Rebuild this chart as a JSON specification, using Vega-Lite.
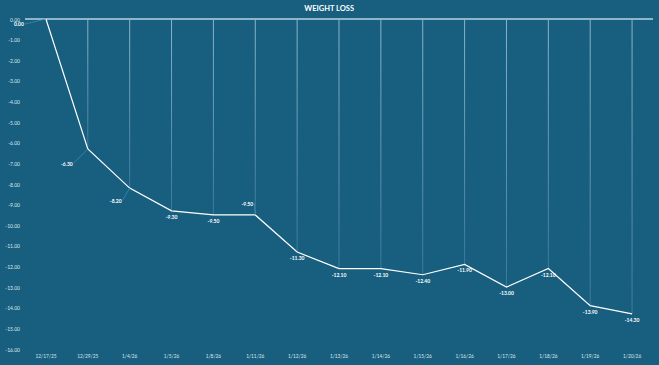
{
  "$schema": "https://vega.github.io/schema/vega-lite/v6.json",
  "width": 628,
  "height": 330,
  "autosize": "none",
  "padding": {"left": 25, "top": 19, "right": 6, "bottom": 16},
  "background": "#175e7f",
  "view": {"stroke": null},
  "config": {
    "font": "Lato",
    "locale": {
      "number": {
        "decimal": ".",
        "thousands": ",",
        "grouping": [3],
        "currency": ["$", ""],
        "minus": "-"
      }
    }
  },
  "title": {
    "text": "WEIGHT LOSS",
    "color": "#ffffff",
    "fontSize": 7.5,
    "fontWeight": "bold",
    "font": "Lato",
    "anchor": "middle",
    "frame": "bounds",
    "offset": 4
  },
  "data": {
    "values": [
      {"date": "12/17/25", "value": 0.0},
      {"date": "12/29/25", "value": -6.3},
      {"date": "1/4/26", "value": -8.2},
      {"date": "1/5/26", "value": -9.3},
      {"date": "1/8/26", "value": -9.5},
      {"date": "1/11/26", "value": -9.5},
      {"date": "1/12/26", "value": -11.3},
      {"date": "1/13/26", "value": -12.1},
      {"date": "1/14/26", "value": -12.1},
      {"date": "1/15/26", "value": -12.4},
      {"date": "1/16/26", "value": -11.9},
      {"date": "1/17/26", "value": -13.0},
      {"date": "1/18/26", "value": -12.1},
      {"date": "1/19/26", "value": -13.9},
      {"date": "1/20/26", "value": -14.3}
    ]
  },
  "encoding": {
    "x": {
      "field": "date",
      "type": "ordinal",
      "sort": null,
      "scale": {"type": "band", "paddingInner": 0, "paddingOuter": 0},
      "axis": {
        "title": null,
        "labelAngle": 0,
        "labelFontSize": 4.8,
        "labelColor": "#dde8ee",
        "labelFont": "Lato",
        "domain": false,
        "ticks": false,
        "labelPadding": 4,
        "grid": false
      }
    },
    "y": {
      "field": "value",
      "type": "quantitative",
      "scale": {"domain": [-16, 0], "nice": false, "zero": false},
      "axis": {
        "title": null,
        "values": [0, -1, -2, -3, -4, -5, -6, -7, -8, -9, -10, -11, -12, -13, -14, -15, -16],
        "format": ".2f",
        "labelFontSize": 5,
        "labelColor": "#dde8ee",
        "labelFont": "Lato",
        "domain": false,
        "ticks": false,
        "grid": false,
        "labelPadding": 5.5
      }
    }
  },
  "layer": [
    {
      "mark": {
        "type": "bar",
        "width": 1,
        "fill": {
          "gradient": "linear",
          "x1": 0, "y1": 0, "x2": 0, "y2": 1,
          "stops": [
            {"offset": 0, "color": "#8db6ca"},
            {"offset": 1, "color": "#3a7a98"}
          ]
        }
      },
      "encoding": {
        "y": {"field": "value", "type": "quantitative"},
        "y2": {"datum": 0}
      }
    },
    {
      "mark": {"type": "rule", "color": "#8fb7ca", "strokeWidth": 1},
      "encoding": {"y": {"datum": 0}, "x": null}
    },
    {
      "mark": {"type": "line", "color": "#ffffff", "strokeWidth": 1.2}
    },
    {
      "transform": [{"filter": "datum.date != '12/17/25' && datum.date != '12/29/25' && datum.date != '1/4/26' && datum.date != '1/11/26'"}],
      "mark": {"type": "text", "color": "#ffffff", "fontSize": 5, "fontWeight": "bold", "baseline": "middle", "align": "center", "dy": 6},
      "encoding": {"text": {"field": "value", "type": "quantitative", "format": ".2f"}}
    },
    {
      "transform": [{"filter": "datum.date == '12/17/25'"}],
      "layer": [
        {
          "mark": {"type": "rule", "color": "#3a8cb8", "strokeWidth": 0.8, "x2Offset": -21, "y2Offset": 5},
          "encoding": {"x2": {"field": "date"}, "y2": {"field": "value"}}
        },
        {
          "mark": {"type": "text", "color": "#ffffff", "fontSize": 5, "fontWeight": "bold", "baseline": "middle", "align": "center", "dx": -27, "dy": 5},
          "encoding": {"text": {"field": "value", "type": "quantitative", "format": ".2f"}}
        }
      ]
    },
    {
      "transform": [{"filter": "datum.date == '12/29/25'"}],
      "layer": [
        {
          "mark": {"type": "rule", "color": "#3a8cb8", "strokeWidth": 0.8, "x2Offset": -14, "y2Offset": 14},
          "encoding": {"x2": {"field": "date"}, "y2": {"field": "value"}}
        },
        {
          "mark": {"type": "text", "color": "#ffffff", "fontSize": 5, "fontWeight": "bold", "baseline": "middle", "align": "center", "dx": -21, "dy": 15},
          "encoding": {"text": {"field": "value", "type": "quantitative", "format": ".2f"}}
        }
      ]
    },
    {
      "transform": [{"filter": "datum.date == '1/4/26'"}],
      "layer": [
        {
          "mark": {"type": "rule", "color": "#3a8cb8", "strokeWidth": 0.8, "x2Offset": -7, "y2Offset": 12},
          "encoding": {"x2": {"field": "date"}, "y2": {"field": "value"}}
        },
        {
          "mark": {"type": "text", "color": "#ffffff", "fontSize": 5, "fontWeight": "bold", "baseline": "middle", "align": "center", "dx": -14, "dy": 13},
          "encoding": {"text": {"field": "value", "type": "quantitative", "format": ".2f"}}
        }
      ]
    },
    {
      "transform": [{"filter": "datum.date == '1/11/26'"}],
      "layer": [
        {
          "mark": {"type": "rule", "color": "#3a8cb8", "strokeWidth": 0.8, "x2Offset": -1, "y2Offset": -12},
          "encoding": {"x2": {"field": "date"}, "y2": {"field": "value"}}
        },
        {
          "mark": {"type": "text", "color": "#ffffff", "fontSize": 5, "fontWeight": "bold", "baseline": "middle", "align": "center", "dx": -8, "dy": -11},
          "encoding": {"text": {"field": "value", "type": "quantitative", "format": ".2f"}}
        }
      ]
    }
  ]
}
